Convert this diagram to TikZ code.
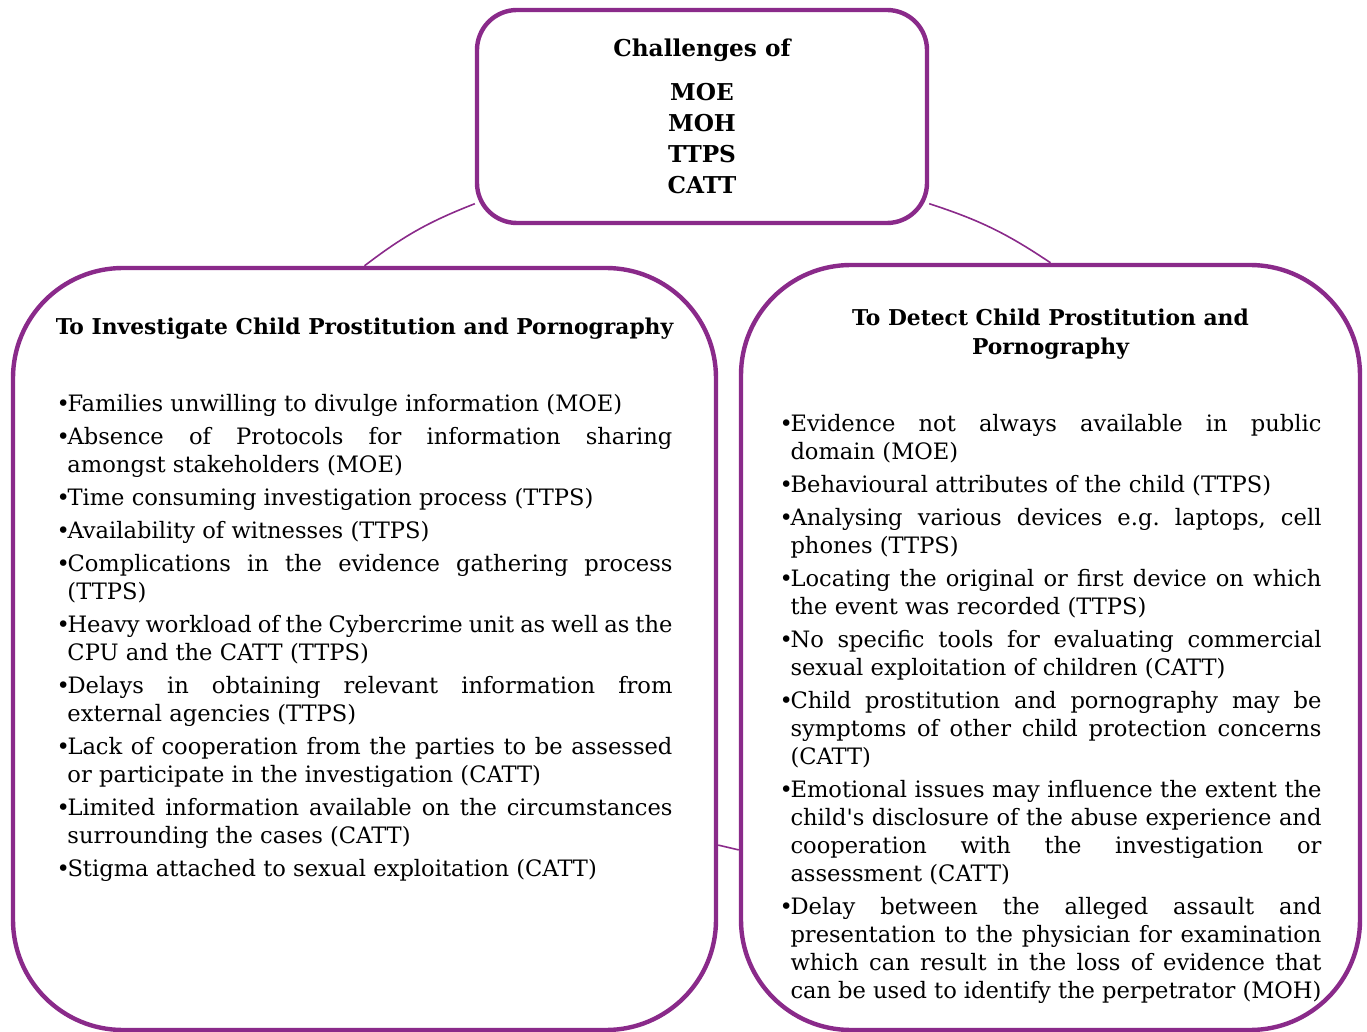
\documentclass[tikz,border=0pt]{standalone}
\usepackage{fontspec}
\setmainfont{DejaVu Serif}
\usetikzlibrary{positioning}
\definecolor{Plum}{HTML}{8A2A8A}
\tikzset{
  panel/.style={draw=Plum, line width=2.2pt, rounded corners=55pt, inner sep=0pt},
  link/.style={draw=Plum, line width=0.8pt},
  headtext/.style={inner sep=0pt, align=center, font=\fontsize{10.9}{14.5}\selectfont\bfseries},
  listtext/.style={inner sep=0pt, align=justify, font=\fontsize{11.3}{14}\selectfont,
    execute at begin node={\spaceskip=.32em plus .8em minus .09em\relax
      \frenchspacing\hyphenpenalty=10000\relax\tolerance=10000\relax
      \setlength{\parskip}{2.5pt}}}
}
\newcommand{\itm}[1]{\par\noindent\hangindent=5.5pt\hangafter=1\makebox[5.5pt][l]{\textbullet}#1\par}

\begin{document}
\begin{tikzpicture}[x=0.5pt, y=-0.5pt]
  \useasboundingbox (0,0) rectangle (1367,1032);
  % the three boxes
  \node[panel, rounded corners=20pt, minimum width=225pt, minimum height=106.5pt] (top) at (702,116.5) {};
  \node[panel, minimum width=351.5pt, minimum height=381pt] (invest) at (364.5,649) {};
  \node[panel, minimum width=309.5pt, minimum height=382.5pt] (detect) at (1050.5,647.5) {};
  \draw[link] (top.201) to[bend right=8] (invest.north);
  \draw[link] (top.339) to[bend left=8] (detect.north);
  \draw[link] (invest.-29.3) -- (detect.213.6);
  % titles
  \node[headtext, font=\fontsize{11.6}{15.5}\selectfont\bfseries, below=15.5pt of top.north] (toptitle) {Challenges of\\[6.25pt]MOE\\MOH\\TTPS\\CATT};
  \node[headtext, below=25.7pt of invest.north] (investtitle) {To Investigate Child Prostitution and Pornography};
  \node[headtext, below=22.7pt of detect.north] (detecttitle) {To Detect Child Prostitution and\\Pornography};
  % lists
  \node[listtext, text width=308pt, below=56pt of invest.north] (investlist) {
    \itm{Families unwilling to divulge information (MOE)}
    \itm{Absence of Protocols for information sharing\linebreak amongst stakeholders (MOE)}
    \itm{Time consuming investigation process (TTPS)}
    \itm{Availability of witnesses (TTPS)}
    \itm{Complications in the evidence gathering process\linebreak (TTPS)}
    \itm{Heavy workload of the Cybercrime unit as well as the\linebreak CPU and the CATT (TTPS)}
    \itm{Delays in obtaining relevant information from\linebreak external agencies (TTPS)}
    \itm{Lack of cooperation from the parties to be assessed\linebreak or participate in the investigation (CATT)}
    \itm{Limited information available on the circumstances\linebreak surrounding the cases (CATT)}
    \itm{Stigma attached to sexual exploitation (CATT)}
  };
  \node[listtext, text width=271pt, below=67.5pt of detect.north] (detectlist) {
    \itm{Evidence not always available in public\linebreak domain (MOE)}
    \itm{Behavioural attributes of the child (TTPS)}
    \itm{Analysing various devices e.g. laptops, cell\linebreak phones (TTPS)}
    \itm{Locating the original or first device on which\linebreak the event was recorded (TTPS)}
    \itm{No specific tools for evaluating commercial\linebreak sexual exploitation of children (CATT)}
    \itm{Child prostitution and pornography may be\linebreak symptoms of other child protection concerns\linebreak (CATT)}
    \itm{Emotional issues may influence the extent the\linebreak child\textquotesingle s disclosure of the abuse experience and\linebreak cooperation with the investigation or\linebreak assessment (CATT)}
    \itm{Delay between the alleged assault and\linebreak presentation to the physician for examination\linebreak which can result in the loss of evidence that\linebreak can be used to identify the perpetrator (MOH)}
  };
\end{tikzpicture}
\end{document}
